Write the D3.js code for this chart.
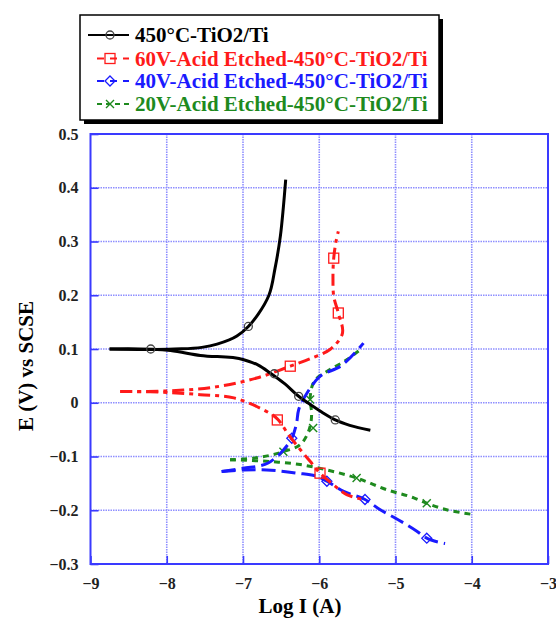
<!DOCTYPE html>
<html>
<head>
<meta charset="utf-8">
<script src="https://cdn.jsdelivr.net/npm/d3@7"></script>
<style>
  body { margin: 0; background: #fff; }
  text { font-family: "Liberation Serif", "Times New Roman", serif; font-weight: bold; }
</style>
</head>
<body>
<svg id="chart" width="556" height="619"></svg>
<script>
(function (d3) {

  // tick values
  const xTicks = [-9, -8, -7, -6, -5, -4, -3];
  const yTicks = [-0.3, -0.2, -0.1, 0, 0.1, 0.2, 0.3, 0.4, 0.5];

  const seriesNames = [
    '450°C-TiO2/Ti',
    '60V-Acid Etched-450°C-TiO2/Ti',
    '40V-Acid Etched-450°C-TiO2/Ti',
    '20V-Acid Etched-450°C-TiO2/Ti'
  ];

  // [log I, E], each curve split at its start point
  const blackAnodic = [[-8.75, 0.1], [-7.9, 0.1], [-7.54, 0.103], [-7.34, 0.109], [-7.08, 0.124],
    [-6.93, 0.142], [-6.8, 0.165], [-6.66, 0.2], [-6.58, 0.25], [-6.51, 0.31], [-6.47, 0.365], [-6.44, 0.415]];
  const blackCathodic = [[-8.75, 0.1], [-7.95, 0.097], [-7.56, 0.088], [-6.99, 0.08], [-6.8, 0.07],
    [-6.64, 0.055], [-6.45, 0.035], [-6.27, 0.012], [-6.1, -0.005], [-5.95, -0.019], [-5.79, -0.032],
    [-5.6, -0.042], [-5.33, -0.051]];
  const blackMarks = [[-8.21, 0.1], [-6.93, 0.142], [-6.59, 0.054], [-6.27, 0.012], [-5.79, -0.032]];

  const redAnodic = [[-8.61, 0.021], [-8.0, 0.022], [-7.38, 0.029], [-6.82, 0.046], [-6.38, 0.068],
    [-6.1, 0.083], [-5.86, 0.099], [-5.77, 0.111], [-5.7, 0.127], [-5.75, 0.167], [-5.81, 0.198],
    [-5.82, 0.23], [-5.81, 0.269], [-5.78, 0.3], [-5.75, 0.319]];
  const redCathodic = [[-8.61, 0.021], [-7.95, 0.019], [-7.56, 0.015], [-7.12, 0.009], [-6.82, -0.007],
    [-6.55, -0.03], [-6.4, -0.06], [-6.25, -0.087], [-6.12, -0.109], [-5.99, -0.131], [-5.81, -0.153],
    [-5.64, -0.171], [-5.42, -0.18]];
  const redMarks = [[-6.38, 0.068], [-5.75, 0.167], [-5.81, 0.269], [-6.55, -0.032], [-5.99, -0.131]];

  const blueAnodic = [[-7.28, -0.128], [-7.0, -0.122], [-6.67, -0.112], [-6.49, -0.091], [-6.36, -0.066],
    [-6.3, -0.04], [-6.27, -0.013], [-6.16, 0.018], [-5.99, 0.049], [-5.72, 0.068], [-5.42, 0.111]];
  const blueCathodic = [[-7.28, -0.128], [-6.99, -0.125], [-6.69, -0.125], [-6.29, -0.131], [-6.03, -0.137],
    [-5.9, -0.146], [-5.68, -0.165], [-5.4, -0.18], [-5.2, -0.199], [-4.96, -0.218], [-4.72, -0.239],
    [-4.59, -0.252], [-4.35, -0.262]];
  const blueMarks = [[-6.36, -0.066], [-5.9, -0.146], [-5.4, -0.18], [-4.59, -0.252]];

  const greenAnodic = [[-7.17, -0.106], [-6.86, -0.103], [-6.47, -0.091], [-6.25, -0.078], [-6.12, -0.044],
    [-6.1, -0.019], [-6.12, 0.006], [-6.05, 0.043], [-5.9, 0.058], [-5.64, 0.08], [-5.45, 0.1]];
  const greenCathodic = [[-7.17, -0.106], [-6.69, -0.109], [-6.25, -0.115], [-5.9, -0.125], [-5.51, -0.14],
    [-5.11, -0.162], [-4.76, -0.177], [-4.59, -0.187], [-4.33, -0.199], [-3.98, -0.208]];
  const greenMarks = [[-6.47, -0.091], [-6.08, -0.047], [-6.12, 0.006], [-5.51, -0.14], [-4.59, -0.187]];

  const AXIS = '#3a3aff';
  const GRID = '#8f8fff';

  const svg = d3.select('#chart');
  const x = d3.scaleLinear().domain([-9, -3]).range([90.5, 548]);
  const y = d3.scaleLinear().domain([-0.3, 0.5]).range([564, 134]);

  // grid
  const grid = svg.append('g');
  grid.selectAll('line.gx').data(xTicks.slice(1, -1)).enter().append('line')
    .attr('x1', d => x(d)).attr('x2', d => x(d)).attr('y1', y(0.5)).attr('y2', y(-0.3))
    .attr('stroke', GRID).attr('stroke-width', 1.6).attr('stroke-dasharray', '1.5,1');
  grid.selectAll('line.gy').data(yTicks.slice(1, -1)).enter().append('line')
    .attr('y1', d => y(d)).attr('y2', d => y(d)).attr('x1', x(-9)).attr('x2', x(-3))
    .attr('stroke', GRID).attr('stroke-width', 1.6).attr('stroke-dasharray', '1.5,1');

  // axes (ticks inward, frame in blue)
  const xAxis = svg.append('g').attr('transform', `translate(0,${y(-0.3)})`)
    .call(d3.axisBottom(x).tickValues(xTicks).tickSize(-8).tickPadding(14).tickFormat(d3.format('d')));
  const yAxis = svg.append('g').attr('transform', `translate(${x(-9)},0)`)
    .call(d3.axisLeft(y).tickValues(yTicks).tickSize(-8).tickPadding(12)
      .tickFormat(d => d === 0 ? '0' : d3.format('.1f')(d)));
  [xAxis, yAxis].forEach(a => {
    a.select('.domain').remove();
    a.selectAll('line').attr('stroke', AXIS).attr('stroke-width', 1.6);
    a.selectAll('text').attr('fill', '#222').style('font-size', '16px');
  });
  svg.append('rect')
    .attr('x', x(-9)).attr('y', y(0.5)).attr('width', x(-3) - x(-9)).attr('height', y(-0.3) - y(0.5))
    .attr('fill', 'none').attr('stroke', AXIS).attr('stroke-width', 2);

  svg.append('text').attr('x', 300).attr('y', 613).attr('text-anchor', 'middle')
    .style('font-size', '21px').text('Log I (A)');
  svg.append('text').attr('transform', 'translate(33,366) rotate(-90)').attr('text-anchor', 'middle')
    .style('font-size', '21px').text('E (V) vs SCSE');

  const line = d3.line().x(d => x(d[0])).y(d => y(d[1])).curve(d3.curveCatmullRom.alpha(1));

  const styles = [
    { color: '#000000', dash: null, marker: 'circle' },
    { color: '#ff1a1a', dash: '12,5,4,5', marker: 'square' },
    { color: '#1a1aff', dash: '14,6', marker: 'diamond' },
    { color: '#1e8a1e', dash: '6,5', marker: 'cross' }
  ];
  const branches = [
    [blackAnodic, blackCathodic], [redAnodic, redCathodic],
    [blueAnodic, blueCathodic], [greenAnodic, greenCathodic]
  ];
  const marks = [blackMarks, redMarks, blueMarks, greenMarks];

  function drawMarker(g, type, cx, cy, color) {
    if (type === 'circle') {
      g.append('circle').attr('cx', cx).attr('cy', cy).attr('r', 4)
        .attr('fill', 'none').attr('stroke', '#444').attr('stroke-width', 1.3);
    } else if (type === 'square') {
      g.append('rect').attr('x', cx - 5).attr('y', cy - 5).attr('width', 10).attr('height', 10)
        .attr('fill', 'none').attr('stroke', color).attr('stroke-width', 1.3);
    } else if (type === 'diamond') {
      g.append('path').attr('d', `M${cx},${cy - 5}L${cx + 5},${cy}L${cx},${cy + 5}L${cx - 5},${cy}Z`)
        .attr('fill', 'none').attr('stroke', color).attr('stroke-width', 1.3);
    } else {
      g.append('path').attr('d', `M${cx - 4},${cy - 4}L${cx + 4},${cy + 4}M${cx - 4},${cy + 4}L${cx + 4},${cy - 4}`)
        .attr('fill', 'none').attr('stroke', color).attr('stroke-width', 1.4);
    }
  }

  const curves = svg.append('g');
  [3, 2, 1, 0].forEach(i => {
    const s = styles[i];
    branches[i].forEach(b => {
      curves.append('path').attr('d', line(b)).attr('fill', 'none')
        .attr('stroke', s.color).attr('stroke-width', 3)
        .attr('stroke-dasharray', s.dash);
    });
    marks[i].forEach(m => drawMarker(curves, s.marker, x(m[0]), y(m[1]), s.color));
  });

  // legend with drop shadow
  const lg = svg.append('g');
  lg.append('rect').attr('x', 84).attr('y', 19).attr('width', 359).attr('height', 105).attr('fill', '#000');
  lg.append('rect').attr('x', 80).attr('y', 15).attr('width', 359).attr('height', 105)
    .attr('fill', '#fff').attr('stroke', '#000').attr('stroke-width', 1.5);
  const rowY = [35, 58.5, 81, 104];
  seriesNames.forEach((name, i) => {
    const s = styles[i];
    const ry = rowY[i];
    lg.append('line').attr('x1', i === 0 ? 88 : 97).attr('x2', 129).attr('y1', ry).attr('y2', ry)
      .attr('stroke', s.color).attr('stroke-width', 2)
      .attr('stroke-dasharray', i === 0 ? null : (i === 3 ? '5,4' : '7,6'));
    drawMarker(lg, s.marker, 110, ry, s.color);
    lg.append('text').attr('x', 135).attr('y', ry + 7).attr('fill', s.color)
      .style('font-size', '21px').text(name);
  });

})(d3);
</script>
</body>
</html>
